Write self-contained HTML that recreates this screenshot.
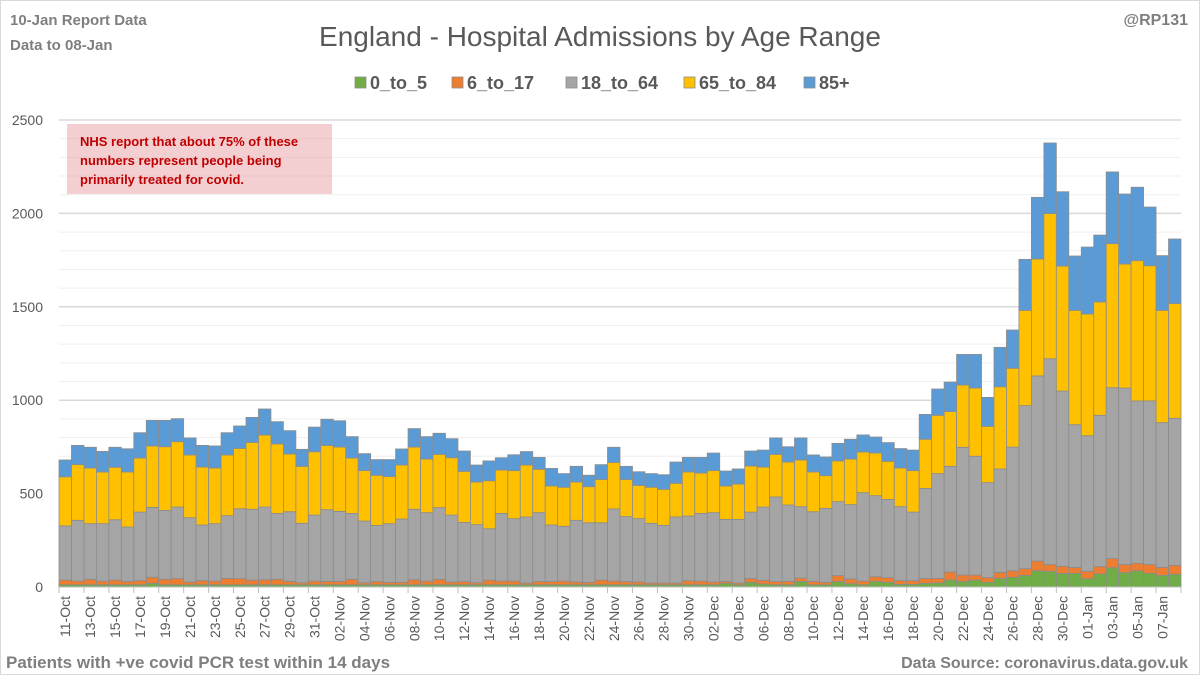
<!DOCTYPE html>
<html><head><meta charset="utf-8">
<style>
body{margin:0;background:#fff;}
#wrap{position:relative;width:1200px;height:675px;overflow:hidden;background:#fff;font-family:"Liberation Sans",sans-serif;}
svg text{font-family:"Liberation Sans",sans-serif;}
</style></head>
<body>
<div id="wrap">
<svg id="chart" width="1200" height="675">
  <rect x="0.5" y="0.5" width="1199" height="674" fill="#fff" stroke="#d9d9d9"/>
  <text x="10" y="25" font-size="15" font-weight="bold" fill="#7f7f7f">10-Jan Report Data</text>
  <text x="10" y="50" font-size="15" font-weight="bold" fill="#7f7f7f">Data to 08-Jan</text>
  <text x="600" y="46" font-size="28" text-anchor="middle" fill="#595959">England - Hospital Admissions by Age Range</text>
  <text x="1188" y="25" font-size="16" font-weight="bold" text-anchor="end" fill="#7f7f7f">@RP131</text>
  <g id="grid"></g>
  <g id="bars"></g>
  <g id="axes"></g>
  <g id="legend"></g>
  <rect x="67" y="124" width="265" height="70" fill="#e8a0a6" fill-opacity="0.5"/>
  <text font-size="13" font-weight="bold" fill="#c00000">
    <tspan x="80" y="146">NHS report that about 75% of these</tspan>
    <tspan x="80" y="165">numbers represent people being</tspan>
    <tspan x="80" y="184">primarily treated for covid.</tspan>
  </text>
  <text x="6" y="668" font-size="17" font-weight="bold" fill="#7f7f7f">Patients with  +ve covid PCR test within 14 days</text>
  <text x="1188" y="668" font-size="16" font-weight="bold" text-anchor="end" fill="#7f7f7f">Data Source: coronavirus.data.gov.uk</text>
</svg>
</div>
<script>
const seriesNames = ["0_to_5","6_to_17","18_to_64","65_to_84","85+"];
const seriesColors = ["#70ad47","#ed7d31","#a5a5a5","#ffc000","#5b9bd5"];
const yTicks = [0,500,1000,1500,2000,2500];
const age0to5 = [12,12,12,12,12,12,12,20,12,12,12,12,12,12,12,12,12,12,12,12,12,12,12,12,12,12,12,12,12,12,12,12,12,12,12,12,12,12,12,12,12,12,12,12,12,12,12,12,12,12,12,12,12,20,12,25,16,12,12,30,12,12,29,18,12,30,25,14,14,20,22,37,30,37,25,46,52,62,87,84,73,73,45,70,103,77,87,73,62,68];
const age6to17 = [25,20,29,20,25,18,22,32,29,33,15,22,20,34,33,25,27,29,18,11,20,18,18,29,11,17,13,13,27,20,29,15,17,11,25,20,20,9,17,17,20,15,13,25,20,17,15,9,9,9,22,20,15,10,9,20,20,17,18,18,18,13,32,25,20,25,25,20,20,25,24,43,34,27,25,32,35,36,52,36,38,32,39,39,49,43,40,47,43,48];
const age18to64 = [290,325,298,307,323,291,367,374,369,383,344,298,307,336,374,379,389,353,373,318,353,384,375,353,330,301,314,339,377,366,384,358,317,311,275,362,334,354,369,303,293,330,319,307,386,348,339,320,309,354,346,362,371,332,341,356,392,453,409,382,373,396,396,398,473,434,419,396,367,483,561,566,684,636,509,554,662,873,991,1102,938,764,726,810,915,945,869,876,775,787];
const age65to84 = [263,298,298,277,281,295,289,329,341,350,336,310,298,325,323,358,386,372,309,305,339,344,344,296,270,268,252,289,333,287,285,307,273,228,257,232,257,278,232,209,209,205,193,232,249,198,178,193,193,180,236,216,225,179,189,247,214,228,230,250,213,175,218,244,218,228,204,207,222,263,312,293,333,365,301,440,422,510,626,777,669,612,651,607,771,664,751,724,601,614];
const age85plus = [90,103,111,110,107,124,136,137,141,123,91,116,118,119,120,134,139,119,125,91,132,140,141,115,91,84,91,86,99,120,113,102,109,91,106,66,85,72,64,94,73,84,61,79,81,71,73,73,78,114,78,84,94,80,81,80,91,88,82,118,91,100,94,106,91,86,100,104,110,133,141,158,164,180,155,211,205,273,330,378,398,291,359,358,384,375,393,314,293,346];
const startDate = "2021-10-11";

const NS = "http://www.w3.org/2000/svg";
const X0 = 59, X1 = 1181, Y0 = 587, YMAX = 2500, YTOP = 120;
const n = age0to5.length;
const bw = (X1 - X0) / n;
function xScale(i){ return X0 + i * bw; }
function yScale(v){ return Y0 - (v / YMAX) * (Y0 - YTOP); }
function mk(tag, attrs, parent){ const e = document.createElementNS(NS, tag); for (const k in attrs) e.setAttribute(k, attrs[k]); parent.appendChild(e); return e; }
const months = ["Jan","Feb","Mar","Apr","May","Jun","Jul","Aug","Sep","Oct","Nov","Dec"];
const categories = [];
{ const d0 = new Date(startDate + "T00:00:00Z"); for (let i = 0; i < n; i++){ const d = new Date(d0.getTime() + i*86400000); categories.push(String(d.getUTCDate()).padStart(2,"0") + "-" + months[d.getUTCMonth()]); } }

const grid = document.getElementById("grid");
for (let v = 100; v <= YMAX; v += 100){
  const major = v % 500 === 0;
  const ln = mk("line", {x1:X0, x2:X1, y1:yScale(v), y2:yScale(v), stroke: major ? "#d9d9d9" : "#efefef", "stroke-width": major ? 1.5 : 1}, grid);
  
  
}
const axes = document.getElementById("axes");
yTicks.forEach(v => {
  const t = mk("text", {x: 43, y: yScale(v) + 5, "font-size": 14, "text-anchor": "end", fill: "#595959"}, axes);
  t.textContent = v;
  
  
});
const series = [age0to5, age6to17, age18to64, age65to84, age85plus];
const bars = document.getElementById("bars");
for (let i = 0; i < n; i++){
  let cum = 0;
  for (let s = 0; s < series.length; s++){
    const v = series[s][i];
    const r = mk("rect", {x: xScale(i), y: yScale(cum + v), width: bw, height: yScale(cum) - yScale(cum + v), fill: seriesColors[s], stroke: "#8c8c8c", "stroke-width": 0.8}, bars);
    
    
    cum += v;
  }
}
const axl = mk("line", {x1: X0, x2: X1, y1: Y0, y2: Y0, stroke: "#bfbfbf", "stroke-width": 1}, axes);


for (let i = 0; i <= n; i += 2){
  const tk = mk("line", {x1: xScale(i), x2: xScale(i), y1: Y0, y2: Y0 + 6, stroke: "#bfbfbf"}, axes);
  
  
}
for (let i = 0; i < n; i += 2){
  const cx = xScale(i) + bw/2 + 5, cy = 596;
  const t = mk("text", {x: cx, y: cy, "font-size": 14, "text-anchor": "end", fill: "#595959", transform: `rotate(-90 ${cx} ${cy})`}, axes);
  t.textContent = categories[i];
  
  
}
const legend = document.getElementById("legend");
const legX = [355, 452, 566, 684, 804];
seriesNames.forEach((nm, s) => {
  const g = mk("g", {}, legend);
  
  
  mk("rect", {x: legX[s], y: 77, width: 11, height: 11, fill: seriesColors[s], stroke: "#8c8c8c", "stroke-width": 0.8}, g);
  const t = mk("text", {x: legX[s] + 15, y: 89, "font-size": 18, "font-weight": "bold", fill: "#595959"}, g);
  t.textContent = nm;
});
</script>
</body></html>
